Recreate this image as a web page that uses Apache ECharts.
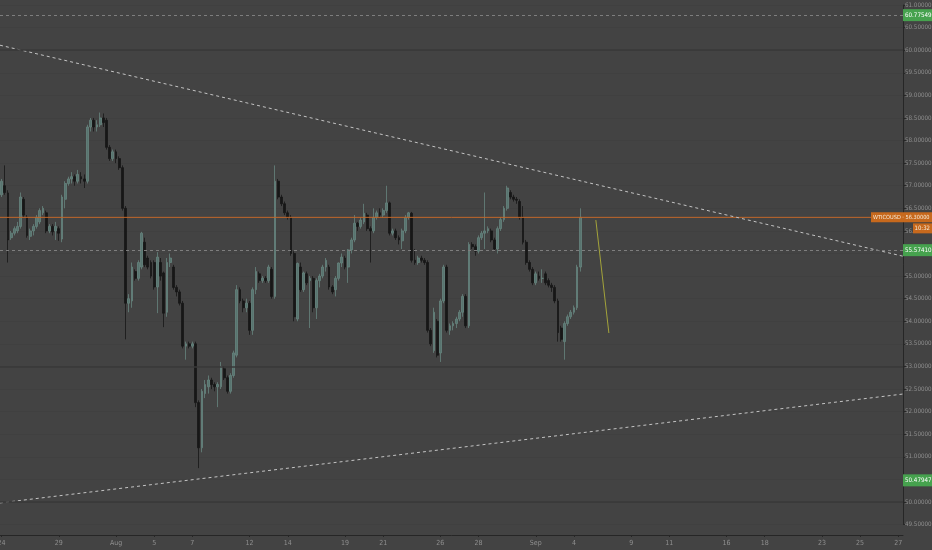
<!DOCTYPE html>
<html><head><meta charset="utf-8">
<script src="https://cdn.jsdelivr.net/npm/echarts@6/dist/echarts.min.js"></script>
<style>html,body{margin:0;padding:0;background:#434343;}#c{width:932px;height:550px;}</style>
</head><body><div id="c"></div>
<script>
// Trading days (4H candles, 6 per day)
const days = ['Jul 24','Jul 25','Jul 26','Jul 29','Jul 30','Jul 31',
  'Aug 1','Aug 2','Aug 5','Aug 6','Aug 7','Aug 8','Aug 9','Aug 12','Aug 13','Aug 14','Aug 15','Aug 16',
  'Aug 19','Aug 20','Aug 21','Aug 22','Aug 23','Aug 26','Aug 27','Aug 28','Aug 29','Aug 30',
  'Sep 2','Sep 3','Sep 4','Sep 5','Sep 6','Sep 9','Sep 10','Sep 11','Sep 12','Sep 13',
  'Sep 16','Sep 17','Sep 18','Sep 19','Sep 20','Sep 23','Sep 24','Sep 25','Sep 26','Sep 27'];
const hours = ['00:00','04:00','08:00','12:00','16:00','20:00'];
const tickDays = ['Jul 24','Jul 29','Aug 1','Aug 5','Aug 7','Aug 12','Aug 14','Aug 19','Aug 21','Aug 26','Aug 28',
  'Sep 2','Sep 4','Sep 9','Sep 11','Sep 16','Sep 18','Sep 23','Sep 25','Sep 27'];
const tickText = ['24','29','Aug','5','7','12','14','19','21','26','28','Sep','4','9','11','16','18','23','25','27'];

// [open, close, low, high]
const candles = [
[56.8,57.1,56.75,57.15],[57.0,56.85,56.8,57.45],[56.84,55.8,55.3,56.9],[55.85,55.95,55.8,56.0],[55.95,56.05,55.9,56.1],
[56.0,56.1,55.95,56.2],[56.1,56.75,56.05,56.85],[56.7,56.35,56.3,56.75],[56.3,55.9,55.85,56.35],[55.88,56.0,55.8,56.05],
[56.0,56.1,55.9,56.15],[56.1,56.3,56.05,56.35],[56.2,56.45,56.15,56.5],[56.4,56.5,56.35,56.55],[56.4,56.0,55.95,56.45],
[56.0,56.1,55.95,56.15],[56.1,55.98,55.9,56.15],[56.0,56.1,55.8,56.2],[56.05,55.95,55.78,56.1],[55.82,56.75,55.75,56.8],
[56.7,57.05,56.5,57.1],[57.05,57.15,57.0,57.2],[57.15,57.2,57.05,57.3],[57.2,57.1,57.0,57.25],[57.1,57.25,57.05,57.35],
[57.2,57.15,57.05,57.3],[57.15,57.1,56.95,57.25],[57.1,58.3,57.05,58.35],[58.3,58.45,58.2,58.5],[58.45,58.3,58.2,58.5],
[58.3,58.35,58.2,58.45],[58.35,58.5,58.3,58.62],[58.5,58.4,58.3,58.6],[58.45,57.85,57.8,58.5],[57.85,57.6,57.55,57.9],
[57.6,57.75,57.55,57.8],[57.75,57.6,57.5,57.8],[57.6,57.4,57.35,57.65],[57.4,56.5,56.45,57.45],[56.5,54.4,53.6,56.55],
[54.4,54.5,54.2,54.6],[54.45,55.2,54.3,55.3],[55.1,54.95,54.9,55.15],[54.95,55.3,54.9,55.35],[55.2,55.95,55.15,55.98],
[55.75,55.25,55.2,55.85],[55.4,55.2,55.15,55.45],[55.3,55.0,54.95,55.35],[55.3,54.76,54.7,55.35],[54.76,55.42,54.18,55.53],
[55.3,55.0,54.9,55.4],[55.07,54.18,53.87,55.1],[54.2,55.3,54.1,55.4],[55.3,55.4,55.2,55.5],[55.2,54.75,54.7,55.25],
[54.75,54.65,54.55,54.8],[54.65,54.4,54.35,54.7],[54.4,53.45,53.4,54.45],[53.45,53.5,53.15,53.55],[53.5,53.45,53.4,53.55],
[53.45,53.5,53.4,53.55],[53.5,52.2,52.1,53.55],[52.2,51.2,50.75,52.25],[51.2,52.45,51.1,52.5],[52.4,52.6,52.3,52.7],
[52.55,52.7,52.4,52.8],[52.7,52.6,52.5,52.75],[52.6,52.55,52.45,52.65],[52.55,52.6,52.1,52.65],[52.55,53.0,52.5,53.1],
[52.95,52.75,52.7,53.0],[52.75,52.45,52.4,52.8],[52.45,52.8,52.4,52.85],[52.8,53.3,52.75,53.35],[53.25,54.7,53.2,54.8],
[54.7,54.45,54.4,54.75],[54.45,54.3,54.2,54.5],[54.3,54.4,54.2,54.5],[54.4,53.8,53.7,54.45],[53.8,54.7,53.7,54.75],
[54.7,55.1,54.6,55.2],[55.05,54.9,54.85,55.1],[54.9,54.95,54.85,55.0],[54.95,54.9,54.85,55.0],[54.9,55.2,54.85,55.25],
[55.15,54.55,54.5,55.2],[54.55,57.1,54.5,57.45],[57.1,56.75,56.7,57.15],[56.75,56.6,56.55,56.8],[56.6,56.4,56.35,56.65],
[56.4,56.3,56.25,56.45],[56.3,55.5,55.45,56.35],[55.5,54.1,54.0,55.55],[54.05,55.28,54.0,55.3],[55.2,54.7,54.65,55.3],
[54.7,55.07,54.65,55.1],[55.05,54.85,54.8,55.1],[54.9,54.95,53.85,55.0],[54.95,54.3,54.2,55.0],[54.3,54.9,54.05,54.95],
[54.9,55.0,54.75,55.05],[55.0,55.2,54.95,55.25],[55.2,55.35,55.1,55.4],[55.2,54.76,54.7,55.25],[54.76,54.65,54.6,54.8],
[54.7,54.95,54.55,55.0],[54.95,55.29,54.9,55.3],[55.29,55.42,55.2,55.5],[55.4,55.2,55.15,55.45],[55.2,55.58,54.85,55.6],
[55.58,55.8,55.5,55.85],[55.8,56.17,55.75,56.35],[56.17,56.1,56.0,56.2],[56.1,56.24,56.05,56.3],[56.2,56.39,56.15,56.6],
[56.35,56.05,56.0,56.4],[56.05,56.0,55.3,56.1],[56.0,56.3,55.95,56.5],[56.3,56.4,56.25,56.45],[56.4,56.35,56.3,56.5],
[56.35,56.45,56.3,56.5],[56.45,56.62,56.4,57.0],[56.62,55.95,55.9,56.65],[55.95,56.0,55.9,56.05],[56.0,55.85,55.8,56.05],
[55.85,55.8,55.7,55.9],[55.78,56.0,55.6,56.05],[56.0,56.3,55.95,56.35],[56.3,56.4,56.25,56.42],[56.39,55.35,55.3,56.42],
[55.35,55.3,55.25,55.6],[55.3,55.4,55.25,55.45],[55.4,55.35,55.3,55.45],[55.35,55.3,55.25,55.4],[55.3,53.8,53.75,55.35],
[53.8,53.5,53.45,53.85],[53.35,54.2,53.3,54.3],[54.0,53.25,53.2,54.05],[53.3,54.45,53.1,54.5],[54.45,55.2,54.4,55.25],
[55.2,53.8,53.75,55.25],[53.8,53.9,53.7,53.95],[53.9,53.95,53.8,54.0],[53.95,54.05,53.85,54.1],[54.05,54.2,54.0,54.25],
[54.2,54.55,54.1,54.6],[54.55,53.9,53.85,54.6],[53.9,55.7,53.85,55.75],[55.7,55.65,55.6,55.75],[55.65,55.55,55.45,55.7],
[55.55,55.85,55.5,55.9],[55.85,55.95,55.8,56.0],[55.95,56.0,55.6,56.85],[56.0,56.05,55.95,56.1],[56.0,55.8,55.75,56.05],
[55.8,55.6,55.55,55.85],[55.6,56.05,55.5,56.1],[56.05,56.25,56.0,56.3],[56.25,56.5,56.2,56.55],[56.5,56.95,56.45,57.0],
[56.85,56.75,56.7,56.9],[56.75,56.7,56.65,56.8],[56.7,56.68,56.6,56.75],[56.65,56.3,56.25,56.7],[56.3,55.75,55.7,56.55],
[55.75,55.3,55.25,55.8],[55.3,55.15,55.1,55.35],[55.15,54.85,54.8,55.2],[54.85,55.05,54.8,55.1],[55.0,54.95,54.9,55.1],
[54.95,54.95,54.85,55.15],[55.05,54.85,54.8,55.1],[54.9,54.8,54.75,54.95],[54.8,54.75,54.65,54.85],[54.75,54.45,54.4,54.8],
[54.45,53.75,53.55,54.5],[53.85,53.6,53.55,53.9],[53.55,53.95,53.15,54.0],[53.95,54.1,53.9,54.15],[54.1,54.2,54.05,54.25],
[54.2,54.3,54.15,54.35],[54.3,55.2,54.25,55.25],[55.2,56.3,55.1,56.5]
];

// Drawings (slot index, price)
const upperTrend = [[-0.5, 60.11], [283.5, 55.44]];
const lowerTrend = [[-0.5, 49.98], [283.5, 52.39]];
const projection = [[186.9, 56.24], [191.0, 53.74]];
const lastPrice = 56.3;
const symbolName = 'WTICOUSD';
const countdown = '10:32';
const priceMarks = [60.77549, 55.57410, 50.47947];
const dottedLevels = [60.77549, 55.57410];
const levelLines = [60, 53, 50];
const yMin = 49.5, yMax = 61, yStep = 0.5;
const lastSlot = 283;

const categories = days.flatMap(d => hours.map(h => d + ' ' + h));
const labelMap = {};
tickDays.forEach((d, j) => { labelMap[days.indexOf(d) * hours.length] = tickText[j]; });
const lastPriceLine = [[-0.5, lastPrice], [lastSlot + 0.5, lastPrice]];

const FONT = '"Liberation Sans Narrow","DejaVu Sans Condensed","Liberation Sans",sans-serif';
const chart = echarts.init(document.getElementById('c'), null, {renderer: 'canvas'});

const markLines = [];
levelLines.forEach(v => markLines.push({yAxis: v, lineStyle: {color: '#393939', width: 1.5, type: 'solid'}}));
dottedLevels.forEach(v => markLines.push({yAxis: v, lineStyle: {color: '#7e7e7e', width: 1, type: [3, 3]}}));

chart.setOption({
  animation: false,
  backgroundColor: '#434343',
  grid: {left: 0, right: 29, top: 5, bottom: 25.4, containLabel: false, outerBoundsMode: 'none'},
  xAxis: [{
    type: 'category', data: categories, max: lastSlot, boundaryGap: true, offset: 10.4,
    axisLine: {show: true, onZero: false, lineStyle: {color: '#262626', width: 1}},
    axisTick: {show: true, alignWithLabel: true, length: 2, lineStyle: {color: '#262626'},
      interval: (i) => labelMap[i] !== undefined},
    axisLabel: {interval: 0, color: '#8f8f8f', fontSize: 7, fontFamily: FONT, margin: 5,
      formatter: (v, i) => labelMap[i] !== undefined ? labelMap[i] : ''},
    splitLine: {show: false}
  }, {
    type: 'value', min: -0.5, max: lastSlot + 0.5, show: false
  }],
  yAxis: [{
    type: 'value', position: 'right', min: yMin, max: yMax, interval: yStep,
    axisLine: {show: true, onZero: false, lineStyle: {color: '#262626'}},
    axisTick: {show: true, length: 3, lineStyle: {color: '#262626'}},
    axisLabel: {color: '#8f8f8f', fontSize: 6.2, fontFamily: FONT, margin: 2, formatter: v => v.toFixed(5)},
    splitLine: {show: true, lineStyle: {color: '#404040', width: 1}}
  }],
  series: [{
    type: 'candlestick', xAxisIndex: 0, yAxisIndex: 0, data: candles, barWidth: 2.3,
    itemStyle: {color: '#58746f', color0: '#171717', borderColor: '#67857f', borderColor0: '#171717', borderWidth: 0.8},
    markLine: {silent: true, symbol: 'none', label: {show: false}, data: markLines, animation: false}
  }, {
    type: 'line', xAxisIndex: 1, yAxisIndex: 0, data: lastPriceLine, symbol: 'none', silent: true, z: 3,
    lineStyle: {color: '#c2672a', width: 1, type: 'solid'}
  }, {
    type: 'line', xAxisIndex: 1, yAxisIndex: 0, data: upperTrend, symbol: 'none', silent: true,
    lineStyle: {color: '#c4c4c4', width: 1, type: [3, 3]}
  }, {
    type: 'line', xAxisIndex: 1, yAxisIndex: 0, data: lowerTrend, symbol: 'none', silent: true,
    lineStyle: {color: '#c4c4c4', width: 1, type: [3, 3]}
  }, {
    type: 'line', xAxisIndex: 1, yAxisIndex: 0, data: projection, symbol: 'none', silent: true,
    lineStyle: {opacity: 0},
    markLine: {silent: true, symbol: ['none', 'arrow'], symbolSize: [0, 5], label: {show: false},
      lineStyle: {color: '#a3a33a', width: 1, type: 'solid'},
      data: [[{coord: projection[0]}, {coord: projection[1]}]]}
  }]
});

// Price labels on the right scale, placed from the y-axis scale
const axisX = chart.convertToPixel({xAxisIndex: 1}, lastSlot + 0.5);
const W = 932 - axisX;
const g = [];
priceMarks.forEach(p => {
  const y = chart.convertToPixel({yAxisIndex: 0}, p);
  g.push({type: 'rect', z: 100, shape: {x: axisX, y: y - 6, width: W, height: 12}, style: {fill: '#46a24e'}});
  g.push({type: 'text', z: 101, x: axisX + 2, y: y, style: {text: p.toFixed(5), fill: '#ffffff', font: '6.2px ' + FONT, verticalAlign: 'middle', align: 'left'}});
});
const yl = chart.convertToPixel({yAxisIndex: 0}, lastPrice);
const lw = 61;
g.push({type: 'rect', z: 100, shape: {x: 932 - lw, y: yl - 5, width: lw, height: 10}, style: {fill: '#c7691d'}});
g.push({type: 'text', z: 101, x: 932 - lw + 2, y: yl, style: {text: symbolName + ' · ' + lastPrice.toFixed(5), fill: '#f6ead8', font: '5.6px ' + FONT, verticalAlign: 'middle', align: 'left'}});
g.push({type: 'rect', z: 100, shape: {x: 913, y: yl + 6, width: 19, height: 10}, style: {fill: '#c7691d'}});
g.push({type: 'text', z: 101, x: 914.5, y: yl + 11, style: {text: countdown, fill: '#f6ead8', font: '6px ' + FONT, verticalAlign: 'middle', align: 'left'}});
chart.setOption({graphic: g});
</script>
</body></html>
